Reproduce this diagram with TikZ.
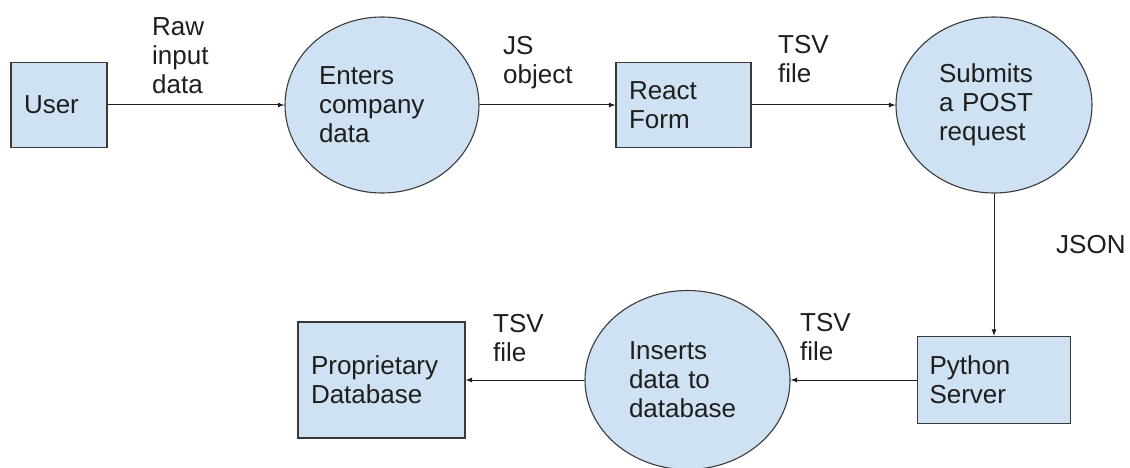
\documentclass[tikz,border=0pt]{standalone}
\usepackage{fontspec}
\setmainfont{Liberation Sans}
\usetikzlibrary{shapes.geometric,arrows.meta}
\definecolor{boxfill}{HTML}{CFE2F3}
\definecolor{edge}{HTML}{3A3A3A}
\definecolor{ink}{HTML}{1E1E1E}
\tikzset{
  every node/.style={text=ink, font=\fontsize{26}{29}\selectfont},
  entity/.style={draw=edge, line width=1.1pt, fill=boxfill, rectangle,
    inner sep=0pt, align=left},
  process/.style={draw=edge, line width=1.1pt, fill=boxfill, ellipse,
    inner sep=0pt, align=left},
  flowlabel/.style={inner sep=0pt, anchor=north west, align=left},
  flow/.style={draw=ink, line width=1pt, -{Latex[length=6.5pt,width=5pt]}}
}
\begin{document}
\begin{tikzpicture}[x=1pt,y=-1pt]
\useasboundingbox (0,0) rectangle (1130,468);

% top row
\node[entity, minimum width=96pt, minimum height=85pt, text width=70pt]
  (user) at (59,105) {User};
\node[process, minimum width=194pt, minimum height=176pt, text width=126pt]
  (enters) at (382,105) {Enters\\company\\data};
\node[entity, minimum width=135pt, minimum height=85pt, text width=109pt]
  (react) at (683.5,105) {React\\Form};
\node[process, minimum width=196pt, minimum height=176pt, text width=110pt]
  (submit) at (994,105) {Submits\\a POST\\request};

% bottom row
\node[entity, minimum width=153pt, minimum height=87pt, text width=129pt]
  (python) at (994,380) {Python\\Server};
\node[process, minimum width=205pt, minimum height=179pt, text width=117pt]
  (insert) at (687.5,380) {Inserts\\data to\\database};
\node[entity, minimum width=167pt, minimum height=116pt, text width=141pt]
  (store) at (381.5,380) {Proprietary\\Database};

% connectors
\draw[flow] (user) -- (enters);
\draw[flow] (enters) -- (react);
\draw[flow] (react) -- (submit);
\draw[flow] (submit) -- (python);
\draw[flow] (python) -- (insert);
\draw[flow] (insert) -- (store);

% data carried by each flow
\node[flowlabel] (lraw)  at (152,17)  {Raw\\input\\data};
\node[flowlabel] (ljs)   at (503,36)  {JS\\object};
\node[flowlabel] (ltsv1) at (778,35)  {TSV\\file};
\node[flowlabel] (ljson) at (1056,235) {JSON};
\node[flowlabel] (ltsv2) at (800,313) {TSV\\file};
\node[flowlabel] (ltsv3) at (493,314) {TSV\\file};
\end{tikzpicture}
\end{document}
